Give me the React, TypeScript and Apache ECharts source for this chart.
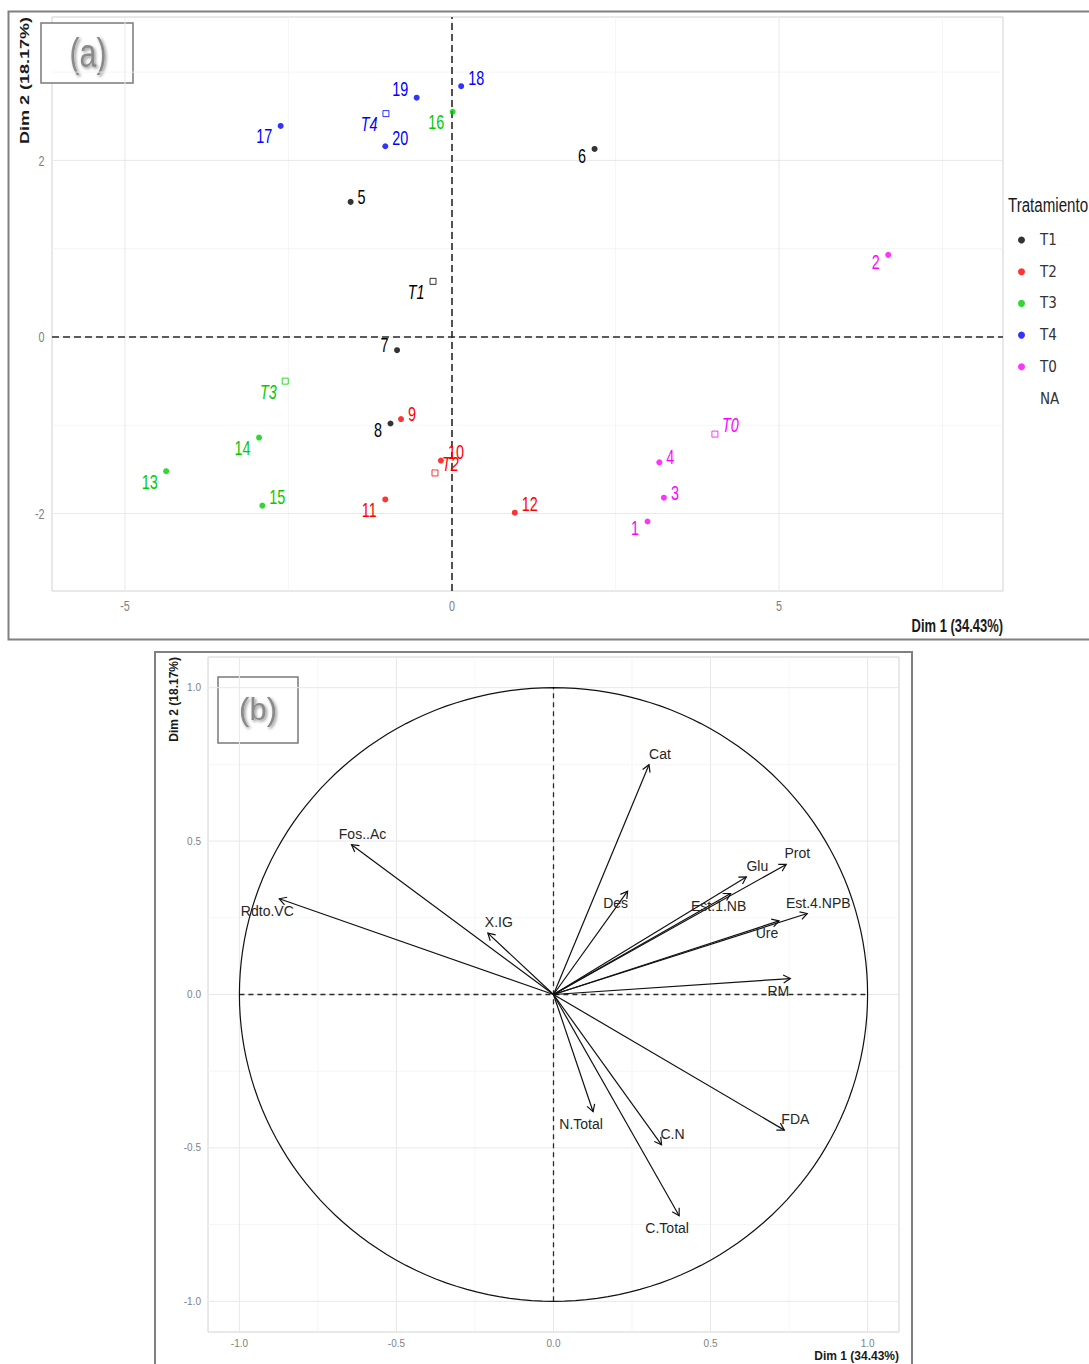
import React, { useEffect, useRef } from "react";
import * as echarts from "echarts";

const SANS = "'Liberation Sans', Arial, sans-serif";
const NARROW = "'Liberation Sans Narrow', 'Arial Narrow', 'DejaVu Sans Condensed', sans-serif";

// ---------- Panel (a): individuals ----------
const obsIds = ["1", "2", "3", "4", "5", "6", "7", "8", "9", "10", "11", "12", "13", "14", "15", "16", "17", "18", "19", "20"];
const obsDim1 = [2.99, 6.67, 3.24, 3.17, -1.55, 2.18, -0.84, -0.94, -0.78, -0.17, -1.02, 0.96, -4.37, -2.95, -2.9, 0.01, -2.62, 0.14, -0.54, -1.02];
const obsDim2 = [-2.09, 0.93, -1.82, -1.42, 1.53, 2.13, -0.15, -0.98, -0.93, -1.4, -1.84, -1.99, -1.52, -1.14, -1.91, 2.55, 2.39, 2.84, 2.71, 2.16];
const obsGroup = ["T0", "T0", "T0", "T0", "T1", "T1", "T1", "T1", "T2", "T2", "T2", "T2", "T3", "T3", "T3", "T3", "T4", "T4", "T4", "T4"];

const groupNames = ["T1", "T2", "T3", "T4", "T0"];
const groupDim1 = [-0.29, -0.26, -2.55, -1.01, 4.02];
const groupDim2 = [0.63, -1.54, -0.5, 2.53, -1.1];
const legendNames = ["T1", "T2", "T3", "T4", "T0", "NA"];

const xTicksA = [-5, 0, 5];
const xTickLabelsA = ["-5", "0", "5"];
const xMinorA = [-2.5, 2.5, 7.5];
const yTicksA = [-2, 0, 2];
const yTickLabelsA = ["-2", "0", "2"];
const yMinorA = [-1, 1, 3];

// ---------- Panel (b): variables ----------
const varNames = ["Cat", "Des", "Glu", "Prot", "Est.1.NB", "Est.4.NPB", "Ure", "RM", "Fos..Ac", "Rdto.VC", "X.IG", "N.Total", "C.N", "FDA", "C.Total"];
const varDim1 = [0.304, 0.236, 0.614, 0.741, 0.564, 0.808, 0.718, 0.754, -0.643, -0.873, -0.209, 0.126, 0.344, 0.735, 0.4];
const varDim2 = [0.749, 0.337, 0.383, 0.424, 0.329, 0.264, 0.24, 0.052, 0.488, 0.312, 0.2, -0.382, -0.49, -0.442, -0.721];

const ticksB = [-1, -0.5, 0, 0.5, 1];
const tickLabelsB = ["-1.0", "-0.5", "0.0", "0.5", "1.0"];
const minorB = [-0.75, -0.25, 0.25, 0.75];

// ---------- styles / label placement ----------
const groupColors = ["#000000", "#FF0000", "#00CC00", "#0000FF", "#FF00FF"];
const obsLabelSide = ["ld", "ld", "ru", "ru", "ru", "ld", "lu", "ld", "ru", "ru", "ld", "ru", "ld", "ld", "ru", "ld", "ld", "ru", "lu", "ru"];
const groupLabelSide = ["ld", "ru", "ld", "ld", "ru"];
const varLabelSide = ["ru", "ld", "ru", "ru", "ld", "ru", "ld", "ld", "ru", "ld", "ru", "ld", "ru", "ru", "ld"];

const A = { xMin: -6.116, xMax: 8.425, yMin: -2.877, yMax: 3.624 };
const B = { min: -1.1, max: 1.1 };

function colorOf(g: string) {
  return groupColors[groupNames.indexOf(g)];
}

function pointLabel(p: number[], text: string, side: string, color: string, italic: boolean) {
  const right = side[0] === "r";
  const up = side[1] === "u";
  const dy = (up ? -1 : 1) * (text.length > 1 ? 9.5 : 6) + 1;
  return {
    type: "text",
    x: p[0] + (right ? 7 : -8.5),
    y: p[1] + dy,
    scaleX: 0.72,
    silent: true,
    style: {
      text,
      align: right ? "left" : "right",
      verticalAlign: "middle",
      fill: color,
      fontSize: 20,
      fontFamily: SANS,
      fontStyle: italic ? "italic" : "normal",
    },
  };
}

function seg(a: number[], b: number[], stroke: string, lw: number, dash?: number[]) {
  return {
    type: "line",
    silent: true,
    shape: { x1: a[0], y1: a[1], x2: b[0], y2: b[1] },
    style: { stroke, lineWidth: lw, lineDash: dash },
  };
}

function buildOption(): any {
  const series: any[] = [];

  // Grid/background for panel (a)
  series.push({
    type: "custom",
    xAxisIndex: 0,
    yAxisIndex: 0,
    z: 1,
    silent: true,
    data: [[0, 0]],
    renderItem: (_p: any, api: any) => {
      const ch: any[] = [];
      xMinorA.forEach((v) => ch.push(seg(api.coord([v, A.yMin]), api.coord([v, A.yMax]), "#f3f3f3", 0.8)));
      yMinorA.forEach((v) => ch.push(seg(api.coord([A.xMin, v]), api.coord([A.xMax, v]), "#f3f3f3", 0.8)));
      xTicksA.forEach((v) => ch.push(seg(api.coord([v, A.yMin]), api.coord([v, A.yMax]), "#e8e8e8", 1)));
      yTicksA.forEach((v) => ch.push(seg(api.coord([A.xMin, v]), api.coord([A.xMax, v]), "#e8e8e8", 1)));
      ch.push(seg(api.coord([A.xMin, 0]), api.coord([A.xMax, 0]), "#2a2a2a", 1.6, [7, 4]));
      ch.push(seg(api.coord([0, A.yMin]), api.coord([0, A.yMax]), "#2a2a2a", 1.6, [7, 4]));
      xTicksA.forEach((v, k) => {
        const a = api.coord([v, A.yMin]);
        ch.push({
          type: "text", x: a[0], y: a[1] + 15, scaleX: 0.72, silent: true,
          style: { text: xTickLabelsA[k], align: "center", verticalAlign: "middle", fontSize: 15, fontFamily: SANS, fill: "#7f7f7f" },
        });
      });
      yTicksA.forEach((v, k) => {
        const a = api.coord([A.xMin, v]);
        ch.push({
          type: "text", x: a[0] - 7.5, y: a[1], scaleX: 0.72, silent: true,
          style: { text: yTickLabelsA[k], align: "right", verticalAlign: "middle", fontSize: 15, fontFamily: SANS, fill: "#7f7f7f" },
        });
      });
      return { type: "group", children: ch };
    },
  });

  // Individuals per treatment
  groupNames.forEach((g, gi) => {
    const data: any[] = [];
    obsIds.forEach((id, i) => {
      if (obsGroup[i] === g) data.push({ name: id, value: [obsDim1[i], obsDim2[i]] });
    });
    series.push({
      type: "scatter",
      name: g,
      xAxisIndex: 0,
      yAxisIndex: 0,
      symbol: "circle",
      symbolSize: 6,
      z: 5,
      itemStyle: { color: groupColors[gi] },
      data,
    });
  });
  series.push({
    type: "scatter",
    name: "NA",
    xAxisIndex: 0,
    yAxisIndex: 0,
    itemStyle: { color: "rgba(0,0,0,0)" },
    data: [],
  });

  // Group centroids (hollow squares)
  series.push({
    type: "scatter",
    name: "centroides",
    xAxisIndex: 0,
    yAxisIndex: 0,
    symbol: "rect",
    symbolSize: 6,
    z: 5,
    data: groupNames.map((g, i) => ({
      name: g,
      value: [groupDim1[i], groupDim2[i]],
      itemStyle: { color: "#ffffff", borderColor: groupColors[i], borderWidth: 1 },
    })),
  });

  // Labels for individuals
  series.push({
    type: "custom",
    xAxisIndex: 0,
    yAxisIndex: 0,
    z: 6,
    silent: true,
    data: obsDim1.map((x, i) => [x, obsDim2[i]]),
    renderItem: (params: any, api: any) => {
      const i = params.dataIndex;
      const p = api.coord([api.value(0), api.value(1)]);
      return pointLabel(p, obsIds[i], obsLabelSide[i], colorOf(obsGroup[i]), false);
    },
  });
  // Labels for centroids
  series.push({
    type: "custom",
    xAxisIndex: 0,
    yAxisIndex: 0,
    z: 6,
    silent: true,
    data: groupDim1.map((x, i) => [x, groupDim2[i]]),
    renderItem: (params: any, api: any) => {
      const i = params.dataIndex;
      const p = api.coord([api.value(0), api.value(1)]);
      return pointLabel(p, groupNames[i], groupLabelSide[i], groupColors[i], true);
    },
  });

  // Grid/background for panel (b)
  series.push({
    type: "custom",
    xAxisIndex: 1,
    yAxisIndex: 1,
    z: 1,
    silent: true,
    data: [[0, 0]],
    renderItem: (_p: any, api: any) => {
      const ch: any[] = [];
      minorB.forEach((v) => ch.push(seg(api.coord([v, B.min]), api.coord([v, B.max]), "#f3f3f3", 0.8)));
      minorB.forEach((v) => ch.push(seg(api.coord([B.min, v]), api.coord([B.max, v]), "#f3f3f3", 0.8)));
      ticksB.forEach((v) => ch.push(seg(api.coord([v, B.min]), api.coord([v, B.max]), "#e8e8e8", 1)));
      ticksB.forEach((v) => ch.push(seg(api.coord([B.min, v]), api.coord([B.max, v]), "#e8e8e8", 1)));
      ch.push(seg(api.coord([-1, 0]), api.coord([1, 0]), "#2a2a2a", 1.3, [5, 4]));
      ch.push(seg(api.coord([0, -1]), api.coord([0, 1]), "#2a2a2a", 1.3, [5, 4]));
      ticksB.forEach((v, k) => {
        const a = api.coord([v, B.min]);
        ch.push({
          type: "text", x: a[0], y: a[1] + 11, silent: true,
          style: { text: tickLabelsB[k], align: "center", verticalAlign: "middle", fontSize: 10, fontFamily: SANS, fill: "#7f7f7f" },
        });
        const c = api.coord([B.min, v]);
        ch.push({
          type: "text", x: c[0] - 7, y: c[1], silent: true,
          style: { text: tickLabelsB[k], align: "right", verticalAlign: "middle", fontSize: 10, fontFamily: SANS, fill: "#7f7f7f" },
        });
      });
      // correlation circle
      const pts: number[][] = [];
      for (let d = 0; d <= 360; d += 2) {
        const t = (d * Math.PI) / 180;
        pts.push(api.coord([Math.cos(t), Math.sin(t)]));
      }
      ch.push({ type: "polyline", silent: true, shape: { points: pts }, style: { stroke: "#111", lineWidth: 1.2, fill: "none" } });
      return { type: "group", children: ch };
    },
  });

  // Variable arrows
  series.push({
    type: "custom",
    xAxisIndex: 1,
    yAxisIndex: 1,
    z: 5,
    silent: true,
    data: varDim1.map((x, i) => [x, varDim2[i]]),
    renderItem: (params: any, api: any) => {
      const i = params.dataIndex;
      const p0 = api.coord([0, 0]);
      const p1 = api.coord([api.value(0), api.value(1)]);
      const ang = Math.atan2(p1[1] - p0[1], p1[0] - p0[0]);
      const L = 8;
      const h = Math.PI / 6;
      const h1 = [p1[0] - L * Math.cos(ang - h), p1[1] - L * Math.sin(ang - h)];
      const h2 = [p1[0] - L * Math.cos(ang + h), p1[1] - L * Math.sin(ang + h)];
      const off = varLabelSide[i] === "ru" ? [11, -11] : [-12, 12];
      return {
        type: "group",
        children: [
          { type: "line", shape: { x1: p0[0], y1: p0[1], x2: p1[0], y2: p1[1] }, style: { stroke: "#111", lineWidth: 1.2 } },
          { type: "polyline", shape: { points: [h1, p1, h2] }, style: { stroke: "#111", lineWidth: 1.2, fill: "none" } },
          {
            type: "text", x: p1[0] + off[0], y: p1[1] + off[1],
            style: { text: varNames[i], align: "center", verticalAlign: "middle", fontSize: 14, fontFamily: SANS, fill: "#262626" },
          },
        ],
      };
    },
  });

  const shadow = { textShadowColor: "rgba(0,0,0,0.45)", textShadowBlur: 3, textShadowOffsetX: 1.5, textShadowOffsetY: 1.5 };

  return {
    animation: false,
    backgroundColor: "#ffffff",
    grid: [
      { left: 52, top: 17, width: 951, height: 574, show: true, borderColor: "#d2d2d2", borderWidth: 1, backgroundColor: "transparent" },
      { left: 208, top: 657, width: 691, height: 675, show: true, borderColor: "#d2d2d2", borderWidth: 1, backgroundColor: "transparent" },
    ],
    xAxis: [
      { type: "value", gridIndex: 0, min: A.xMin, max: A.xMax, show: false },
      { type: "value", gridIndex: 1, min: B.min, max: B.max, show: false },
    ],
    yAxis: [
      { type: "value", gridIndex: 0, min: A.yMin, max: A.yMax, show: false },
      { type: "value", gridIndex: 1, min: B.min, max: B.max, show: false },
    ],
    legend: {
      data: legendNames.map((n) => ({ name: n, icon: "circle" })),
      orient: "vertical",
      left: 1018,
      top: 232,
      padding: 0,
      itemWidth: 7,
      itemHeight: 7,
      itemGap: 15.7,
      selectedMode: false,
      textStyle: { fontFamily: NARROW, fontSize: 15, color: "#333", lineHeight: 16, padding: [0, 0, 0, 10] },
    },
    series,
    graphic: [
      // outer frames
      { type: "rect", silent: true, shape: { x: 8.5, y: 11.5, width: 1100, height: 628 }, style: { fill: "none", stroke: "#808080", lineWidth: 2 } },
      { type: "rect", silent: true, shape: { x: 155, y: 652, width: 757, height: 730 }, style: { fill: "none", stroke: "#808080", lineWidth: 2 } },
      // (a) box
      { type: "rect", silent: true, shape: { x: 41, y: 23, width: 92, height: 60 }, style: { fill: "#ffffff", stroke: "#7a7a7a", lineWidth: 1.5 } },
      { type: "text", silent: true, x: 88, y: 53, scaleX: 0.76, style: { text: "(a)", align: "center", verticalAlign: "middle", fontSize: 40, fontFamily: SANS, fill: "#8a8a8a", ...shadow } },
      // (b) box
      { type: "rect", silent: true, shape: { x: 218, y: 677, width: 80, height: 66 }, style: { fill: "#ffffff", stroke: "#7a7a7a", lineWidth: 1.5 } },
      { type: "text", silent: true, x: 258, y: 709, style: { text: "(b)", align: "center", verticalAlign: "middle", fontSize: 31, fontFamily: SANS, fill: "#8a8a8a", ...shadow } },
      // axis titles (a)
      { type: "text", silent: true, x: 1003, y: 626, scaleX: 0.72, style: { text: "Dim 1 (34.43%)", align: "right", verticalAlign: "middle", fontSize: 18, fontWeight: "bold", fontFamily: SANS, fill: "#1a1a1a" } },
      { type: "text", silent: true, x: 24, y: 17, rotation: Math.PI / 2, scaleY: 0.72, style: { text: "Dim 2 (18.17%)", align: "right", verticalAlign: "middle", fontSize: 18, fontWeight: "bold", fontFamily: SANS, fill: "#1a1a1a" } },
      // legend title
      { type: "text", silent: true, x: 1008, y: 205, scaleX: 0.72, style: { text: "Tratamiento", align: "left", verticalAlign: "middle", fontSize: 21, fontFamily: SANS, fill: "#1a1a1a" } },
      // axis titles (b)
      { type: "text", silent: true, x: 899, y: 1356, style: { text: "Dim 1 (34.43%)", align: "right", verticalAlign: "middle", fontSize: 12, fontWeight: "bold", fontFamily: SANS, fill: "#1a1a1a" } },
      { type: "text", silent: true, x: 174, y: 657, rotation: Math.PI / 2, style: { text: "Dim 2 (18.17%)", align: "right", verticalAlign: "middle", fontSize: 12, fontWeight: "bold", fontFamily: SANS, fill: "#1a1a1a" } },
    ],
  };
}

export default function App() {
  const ref = useRef<HTMLDivElement>(null);
  useEffect(() => {
    const chart = echarts.init(ref.current!, undefined, { renderer: "svg" });
    chart.setOption(buildOption());
    return () => chart.dispose();
  }, []);
  return <div ref={ref} style={{ position: "absolute", left: 0, top: 0, width: 1089, height: 1364, background: "#fff" }} />;
}
